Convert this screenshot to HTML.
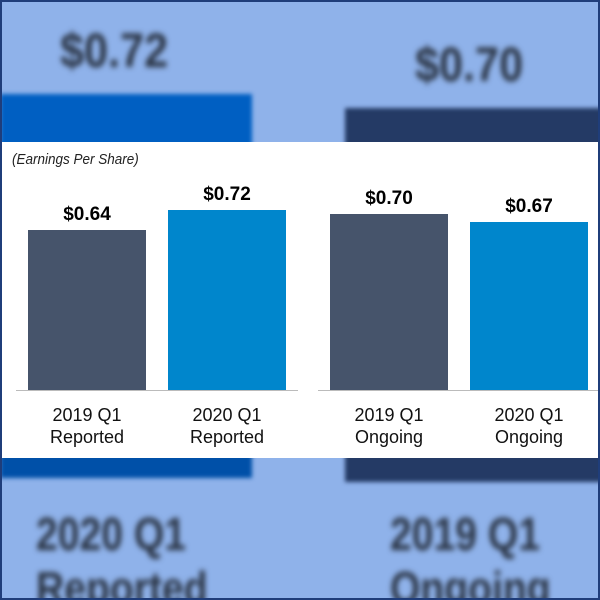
<!DOCTYPE html>
<html><head><style>
body{margin:0;width:600px;height:600px;overflow:hidden;font-family:"Liberation Sans",sans-serif}
#f{position:absolute;left:0;top:0;width:596px;height:596px;border:2px solid #1f3d7a;background:#8fb2ea;overflow:hidden}
.b{position:absolute}
.bl{position:absolute;font-weight:bold;color:#2a3444;filter:blur(3px);font-size:48px;transform-origin:left top}
.v{position:absolute;font-weight:bold;font-size:19px;text-align:center;width:118px}
.l{position:absolute;font-size:18px;text-align:center;width:140px;line-height:22px;color:#111}
</style></head><body>
<div id="f">
<div class="b" style="left:-2px;top:92px;width:252px;height:60px;background:#005fc2;filter:blur(2px)"></div>
<div class="b" style="left:343px;top:106px;width:260px;height:46px;background:#243a65;filter:blur(2px)"></div>
<div class="bl" style="left:58px;top:22px;transform:scaleX(0.9)">$0.72</div>
<div class="bl" style="left:413px;top:36px;transform:scaleX(0.9)">$0.70</div>
<div class="b" style="left:-2px;top:450px;width:252px;height:26px;background:#0050a8;filter:blur(2px)"></div>
<div class="b" style="left:343px;top:450px;width:260px;height:30px;background:#243a65;filter:blur(2px)"></div>
<div class="bl" style="left:34px;top:505px;font-size:46px;transform:scaleX(0.85)">2020 Q1<br>Reported</div>
<div class="bl" style="left:388px;top:505px;font-size:46px;transform:scaleX(0.85)">2019 Q1<br>Ongoing</div>
<div class="b" style="left:0;top:140px;width:596px;height:316px;background:#fff">
<div style="position:absolute;left:10px;top:9px;font-size:15px;font-style:italic;color:#222;transform:scaleX(0.9);transform-origin:left top">(Earnings Per Share)</div>
<div class="b" style="left:26px;top:88px;width:118px;height:160px;background:#46546b"></div>
<div class="b" style="left:166px;top:68px;width:118px;height:180px;background:#0086cc"></div>
<div class="b" style="left:328px;top:72px;width:118px;height:176px;background:#46546b"></div>
<div class="b" style="left:468px;top:80px;width:118px;height:168px;background:#0086cc"></div>
<div class="b" style="left:14px;top:248px;width:282px;height:1px;background:#bbb"></div>
<div class="b" style="left:316px;top:248px;width:282px;height:1px;background:#bbb"></div>
<div class="v" style="left:26px;top:62px">$0.64</div>
<div class="v" style="left:166px;top:42px">$0.72</div>
<div class="v" style="left:328px;top:46px">$0.70</div>
<div class="v" style="left:468px;top:54px">$0.67</div>
<div class="l" style="left:15px;top:262px">2019 Q1<br>Reported</div>
<div class="l" style="left:155px;top:262px">2020 Q1<br>Reported</div>
<div class="l" style="left:317px;top:262px">2019 Q1<br>Ongoing</div>
<div class="l" style="left:457px;top:262px">2020 Q1<br>Ongoing</div>
</div>
</div>
</body></html>
